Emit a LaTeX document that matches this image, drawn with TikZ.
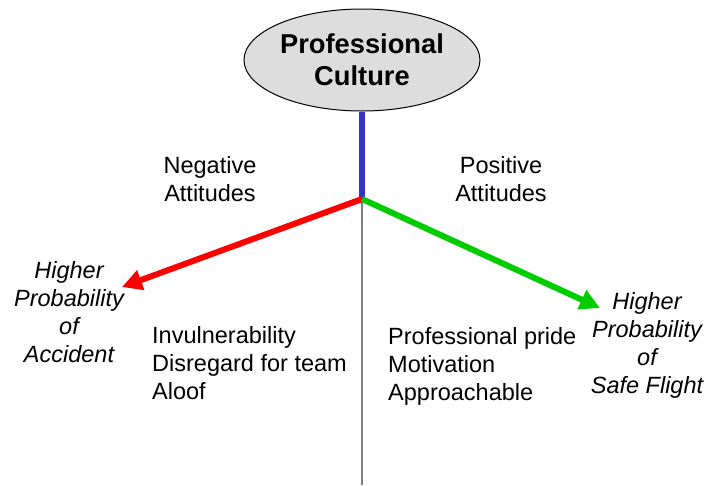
\documentclass[tikz,border=0pt]{standalone}
\usepackage{fontspec}
\setmainfont{Liberation Sans}
\usetikzlibrary{arrows.meta,shapes.geometric}

\definecolor{stemblue}{RGB}{51,51,204}
\definecolor{negred}{RGB}{255,0,0}
\definecolor{posgreen}{RGB}{0,204,0}
\definecolor{bubblegray}{RGB}{221,221,221}

\begin{document}
\begin{tikzpicture}[x=1pt,y=-1pt,
  txt/.style={inner sep=0pt,font=\fontsize{23.5}{28}\selectfont},
  outcome/.style={txt,align=center,font=\itshape\fontsize{23.5}{28}\selectfont},
  trend/.style={line width=6pt,-{Triangle[length=20pt,width=20pt]}}]
\useasboundingbox (0,0) rectangle (706,485);

\coordinate (hub) at (362,199);
\coordinate (foot) at (362,485);
\coordinate (acctip) at (122,287);
\coordinate (safetip) at (600,308);

\node[ellipse,draw=black,line width=1pt,fill=bubblegray,minimum width=236pt,minimum height=102pt,
  inner sep=0pt,align=center,font=\bfseries\fontsize{27.3}{32}\selectfont] (culture) at (362,60) {Professional\\Culture};

\node[txt,align=center] (neg) at (210,179) {Negative\\Attitudes};
\node[txt,align=center] (pos) at (501,179) {Positive\\Attitudes};

\node[outcome] (accident) at (69,312) {Higher\\Probability\\of\\Accident};
\node[outcome] (safe) at (647,345) {Higher\\Probability\\of\\Safe Flight};

\node[txt,align=left,anchor=west] (negtraits) at (152,363.5) {Invulnerability\\Disregard for team\\Aloof};
\node[txt,align=left,anchor=west] (postraits) at (388,366) {Professional pride\\Motivation\\Approachable};

% stem and the two branches
\draw[gray,line width=1.5pt] (hub) -- (foot);
\draw[stemblue,line width=6pt] (culture.south) -- (hub);
\draw[trend,negred] (hub) -- (acctip);
\draw[trend,posgreen] (hub) -- (safetip);
\end{tikzpicture}
\end{document}
